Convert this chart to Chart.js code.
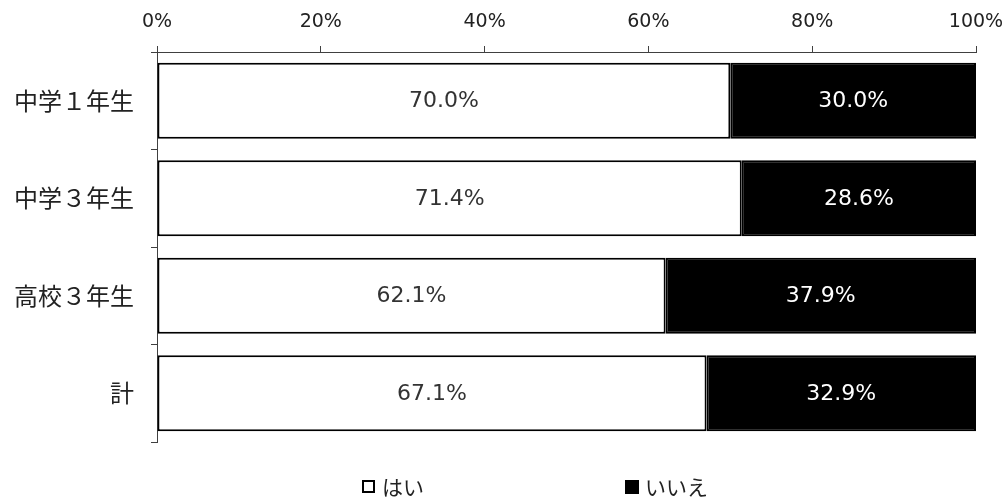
<!DOCTYPE html>
<html>
<head>
<meta charset="utf-8">
<script src="https://cdn.jsdelivr.net/npm/chart.js@4"></script>
<style>
html,body{margin:0;padding:0;background:#fff;}
#wrap{position:relative;width:1005px;height:497px;}
</style>
</head>
<body>
<div id="wrap"><canvas id="c" width="1005" height="497"></canvas></div>
<script>
const categories = ['中学１年生', '中学３年生', '高校３年生', '計'];
const seriesNames = ['はい', 'いいえ'];
const yesValues = [70.0, 71.4, 62.1, 67.1];
const noValues = [30.0, 28.6, 37.9, 32.9];
const xTicks = [0, 20, 40, 60, 80, 100];

const latinFont = '"DejaVu Sans", "Noto Sans CJK JP", sans-serif';
const cjkFont = '"Noto Sans CJK JP", sans-serif';

const barLabels = {
  id: 'barLabels',
  afterDatasetsDraw(chart) {
    const ctx = chart.ctx;
    ctx.save();
    ctx.font = '22px ' + latinFont;
    ctx.textAlign = 'center';
    ctx.textBaseline = 'middle';
    chart.data.datasets.forEach((ds, di) => {
      const meta = chart.getDatasetMeta(di);
      meta.data.forEach((el, i) => {
        const cx = (el.x + el.base) / 2;
        ctx.fillStyle = di === 0 ? '#333333' : '#ffffff';
        ctx.fillText(ds.data[i].toFixed(1) + '%', cx, el.y + 1);
      });
    });
    ctx.restore();
  }
};

const customLegend = {
  id: 'customLegend',
  afterDraw(chart) {
    const ctx = chart.ctx;
    ctx.save();
    const positions = [362, 625];
    const y = 486;
    ctx.font = '21px ' + cjkFont;
    ctx.textBaseline = 'middle';
    ctx.textAlign = 'left';
    chart.data.datasets.forEach((ds, di) => {
      const x = positions[di];
      if (di === 0) {
        ctx.fillStyle = '#ffffff';
        ctx.fillRect(x, y - 6, 13, 13);
        ctx.strokeStyle = '#000000';
        ctx.lineWidth = 2;
        ctx.strokeRect(x + 1, y - 5, 11, 11);
      } else {
        ctx.fillStyle = '#000000';
        ctx.fillRect(x, y - 6, 14, 14);
      }
      ctx.fillStyle = '#222222';
      ctx.fillText(ds.label, x + 20, y + 1);
    });
    ctx.restore();
  }
};

new Chart(document.getElementById('c'), {
  type: 'bar',
  data: {
    labels: categories,
    datasets: [
      {
        label: seriesNames[0],
        data: yesValues,
        backgroundColor: '#ffffff',
        borderColor: '#000000',
        borderWidth: 2,
        borderSkipped: false
      },
      {
        label: seriesNames[1],
        data: noValues,
        backgroundColor: '#000000',
        borderColor: '#000000',
        borderWidth: 2,
        borderSkipped: false
      }
    ]
  },
  options: {
    indexAxis: 'y',
    responsive: false,
    animation: false,
    devicePixelRatio: 1,
    layout: { padding: { left: 0, right: 29, top: 0, bottom: 55 } },
    datasets: { bar: { categoryPercentage: 0.78, barPercentage: 1.0 } },
    plugins: {
      legend: { display: false },
      tooltip: { enabled: false }
    },
    scales: {
      x: {
        position: 'top',
        stacked: true,
        min: 0,
        max: 100,
        afterBuildTicks(scale) { scale.ticks = xTicks.map(v => ({ value: v })); },
        afterFit(scale) {
          scale.height = 52;
          scale.paddingLeft = 0;
          scale.paddingRight = 0;
        },
        grid: {
          drawOnChartArea: false,
          drawTicks: true,
          tickLength: 6,
          color: '#404040',
          lineWidth: 1
        },
        border: { display: true, color: '#404040', width: 1 },
        ticks: {
          padding: 13,
          color: '#222222',
          font: { family: latinFont, size: 19 },
          callback: v => v + '%'
        }
      },
      y: {
        stacked: true,
        afterFit(scale) { scale.width = 157; },
        grid: {
          offset: true,
          drawOnChartArea: false,
          drawTicks: true,
          tickLength: 6,
          color: '#404040',
          lineWidth: 1
        },
        border: { display: true, color: '#404040', width: 1 },
        ticks: {
          padding: 17,
          color: '#222222',
          font: { family: cjkFont, size: 24 }
        }
      }
    }
  },
  plugins: [barLabels, customLegend]
});
</script>
</body>
</html>
